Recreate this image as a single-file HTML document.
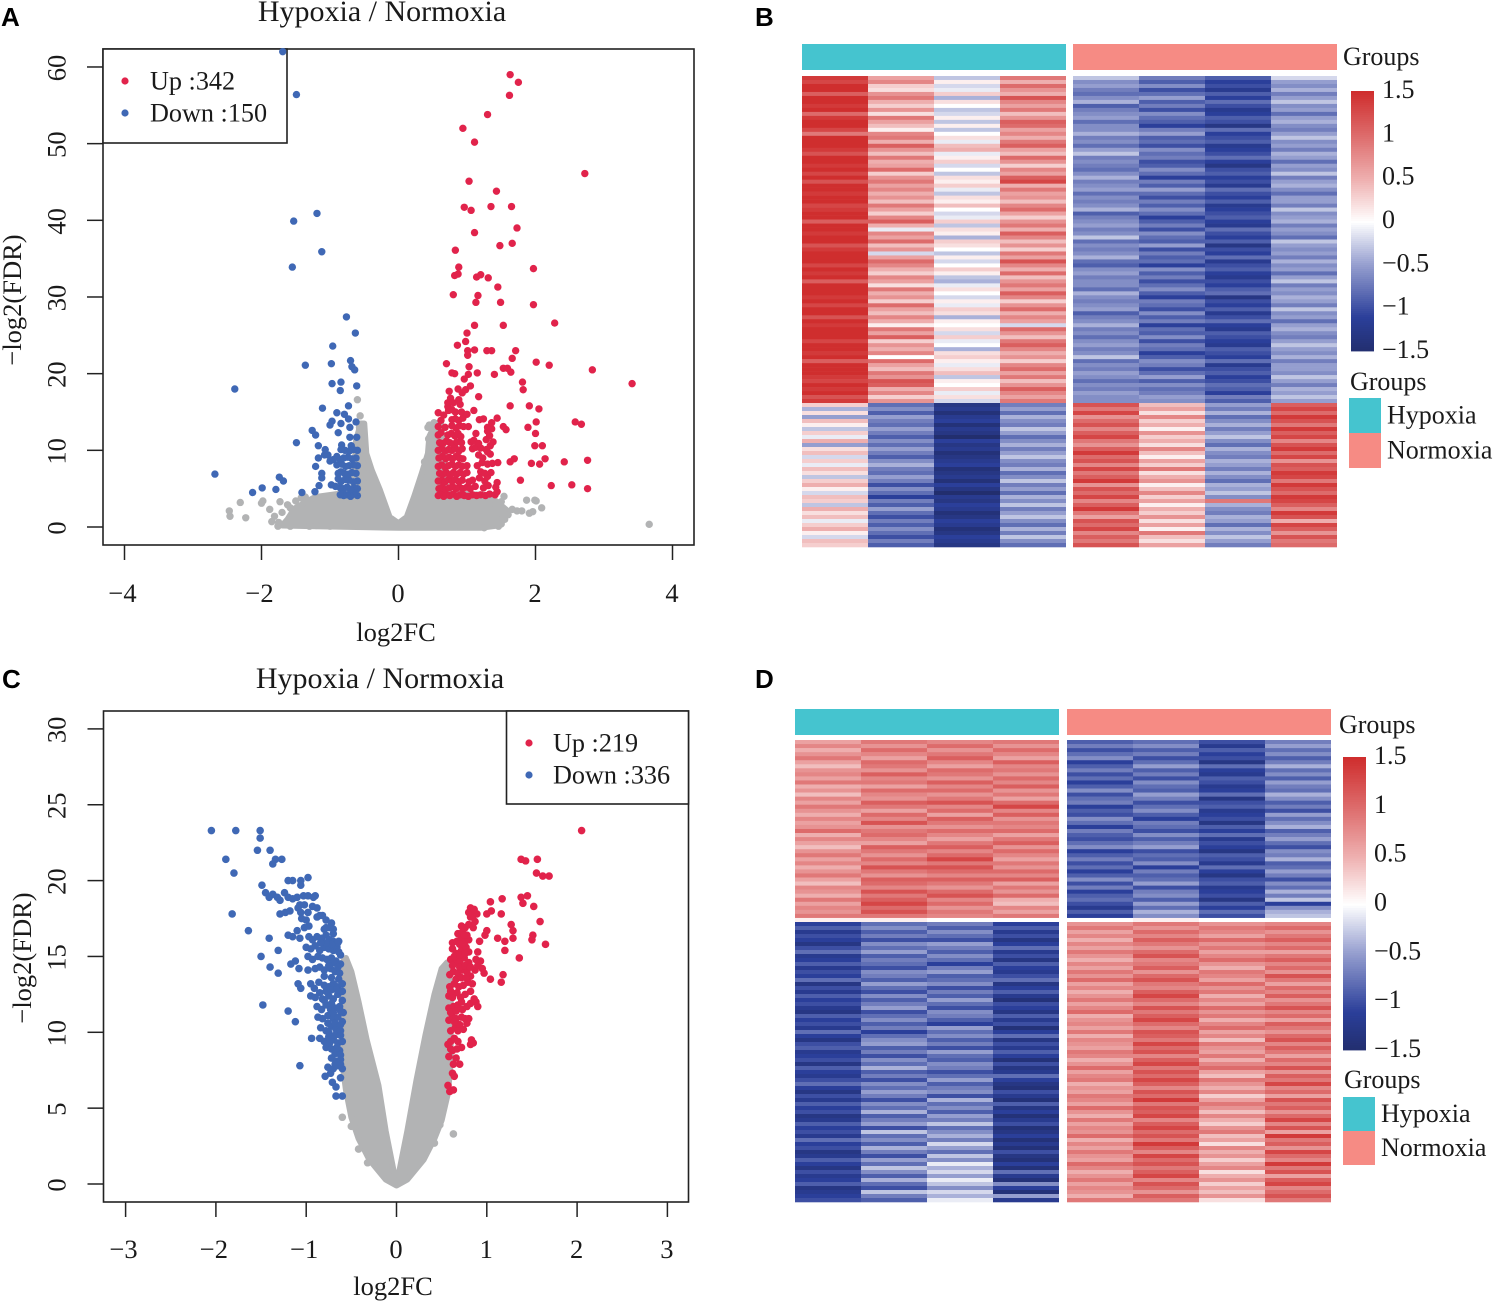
<!DOCTYPE html>
<html lang="en">
<head>
<meta charset="utf-8">
<title>Hypoxia / Normoxia volcano plots and heatmaps</title>
<style>
html,body{margin:0;padding:0;background:#fff}
svg{display:block}
text{font-family:"Liberation Serif",serif;fill:#1a1a1a}
.letter{font-family:"Liberation Sans",sans-serif;font-weight:bold;font-size:26px;fill:#000}
.lab{font-size:26.5px}
.title{font-size:30px}
</style>
</head>
<body>
<svg id="figure" width="1495" height="1301" viewBox="0 0 1495 1301" xmlns="http://www.w3.org/2000/svg">
  <rect width="1495" height="1301" fill="#fff"/>
  <text class="letter" x="1" y="26">A</text>
  <text class="letter" x="755" y="26">B</text>
  <text class="letter" x="2" y="688">C</text>
  <text class="letter" x="755" y="688">D</text>
  <text class="title" x="382" y="21" text-anchor="middle">Hypoxia / Normoxia</text>
  <text class="title" x="380" y="688" text-anchor="middle">Hypoxia / Normoxia</text>
  <text class="lab" x="396" y="641" text-anchor="middle">log2FC</text>
  <text class="lab" x="393" y="1295" text-anchor="middle">log2FC</text>
  <text class="lab" transform="translate(21,300) rotate(-90)" text-anchor="middle">−log2(FDR)</text>
  <text class="lab" transform="translate(31,958) rotate(-90)" text-anchor="middle">−log2(FDR)</text>
  <g id="volcanoA"></g>
  <g id="volcanoC"></g>
  <g id="heatB"></g>
  <g id="heatD"></g>
</svg>
<script>
/* ---------- volcano A (flat lists: log2FC, -log2FDR, log2FC, -log2FDR ...) ---------- */
const aXTicks = [-4,-2,0,2,4];
const aYTicks = [0,10,20,30,40,50,60];
const aGreyOutlineX = [-1.7,-1.62,-1.52,-1.38,-1.22,-0.89,-0.66,-0.62,-0.55,-0.5,-0.47,-0.39,-0.27,-0.13,0,0.12,0.23,0.34,0.43,0.45,0.54,0.62,0.7,1.24,1.42,1.58,1.45,1.2,0,-1.2];
const aGreyOutlineY = [0.2,1,2.4,3.1,3.9,4.3,4.8,11.3,13.5,13.5,9.6,7.4,4.8,1.3,0.5,1.3,4,7,9.6,11.8,13.5,13.7,4.4,4.2,3.4,2.2,0.2,-0.1,-0.1,0.1];
const aGreyPoints = [3.66,0.35,1.87,3.5,1.99,3.5,2.01,3.4,2.09,2.5,1.96,2,1.91,1.8,1.73,2.1,1.66,2.3,1.8,2.1,1.54,4,1.55,1,1.46,0.1,1.5,0.4,1.6,1.6,1.42,2.9,1.5,3.3,-2.31,3.2,-2.47,2.1,-2.46,1.4,-2.23,1.2,-1.98,3.4,-2,3.1,-1.88,2.3,-1.73,3.3,-1.81,1.4,-1.85,0.7,-1.76,0.1,-1.62,0.8,-1.58,2.5,-1.5,3.4,-1.42,3.8,-1.36,3.9,-1.7,1.9,-1.62,2.9,-1.75,0.6,-1.58,0.1,-1.3,0.1,-0.6,16.6,-0.56,14.5,-0.57,13,-0.54,11.6,-0.57,11,-0.52,10,-0.44,7.8,-0.42,6.3,0.45,13.3,0.43,13,0.52,13.6,0.44,11.5,0.46,11,0.38,8.5,-1.2,0.2,-1,0.1,0.9,0.1,1.25,-0.1];
const aUpPoints = [1.63,59,1.75,58,1.62,56.3,1.3,53.8,0.94,52,1.11,50.2,2.72,46.1,1.03,45.1,1.43,43.8,0.96,41.7,1.06,41.3,1.35,41.8,1.65,41.8,1.73,39,1.11,38.4,1.48,36.7,1.66,37,0.83,36.1,0.88,33.9,1.97,33.7,0.82,32.8,0.87,33,1.14,32.6,1.2,32.9,1.31,32.5,1.45,31.3,0.8,30.3,1.16,30.2,1.13,29.3,1.49,29.3,1.97,29,1.11,26.3,1.53,26.3,2.28,26.6,1,25.3,0.98,24.2,0.86,23.7,1.01,23,1.11,23.1,1.29,23,1.36,23,1.71,23,1.01,22.4,1.66,22,0.7,21.3,1.03,20.9,2.01,21.5,2.2,21.1,2.83,20.5,0.78,20.1,0.82,20,1.02,19.9,1.15,20.1,1.4,19.9,1.53,20.7,1.59,20.7,1.64,20.2,0.96,19.3,1.81,18.9,3.41,18.7,0.87,18,0.98,17.9,1.05,18.4,0.93,17.5,1.82,17.9,0.74,17.7,1.17,17,0.76,16.8,0.72,16.2,0.9,16,1.63,15.8,1.91,15.8,2.05,15.4,1.1,15.2,2.58,13.7,2.67,13.4,2.01,13.7,1.89,13,2,12.2,1.99,10.6,2.1,10.6,2.14,8.9,1.94,8.3,2.06,8.2,2.42,8.5,2.76,8.7,1.63,8.5,1.69,8.9,1.78,6.1,2.23,5.4,2.53,5.5,2.76,5,1.44,14.2,1.53,13.1,1.57,12.7,
0.58,4.1,0.62,4.3,0.66,4,0.7,4.2,0.75,4.1,0.8,4.3,0.85,4,0.9,4.2,0.96,4.1,1.02,4,1.08,4.2,1.14,4.1,1.2,4.2,1.27,4.1,1.33,4.3,1.41,4.2,1.44,4.6,
0.59,5,0.64,5.2,0.69,4.9,0.74,5.1,0.79,5.3,0.84,5,0.89,5.2,0.94,5,1,5.2,1.05,5,1.12,5.3,1.24,5.1,1.31,5.4,1.42,5.2,
0.58,6,0.63,6.1,0.68,5.9,0.73,6.2,0.78,6,0.83,6.2,0.88,5.9,0.93,6.1,1.03,5.9,1.08,6.1,1.18,6.4,1.26,6,1.3,6.6,1.44,5.8,
0.6,7,0.65,6.9,0.7,7.1,0.75,6.8,0.8,7.1,0.85,6.9,0.9,7.1,0.95,6.9,1,7.1,1.2,7.2,1.26,7,1.35,7.1,
0.58,7.9,0.63,8.1,0.68,7.8,0.73,8,0.78,8.2,0.83,7.9,0.88,8.1,0.93,7.9,1,8,1.15,8,1.22,8.4,1.3,8.2,1.37,8.3,1.45,8.4,
0.59,9,0.64,9.2,0.69,8.9,0.74,9.1,0.79,8.9,0.84,9.2,0.89,9,0.94,8.9,1.17,9.4,1.23,9,1.34,9.5,
0.58,10,0.63,10.2,0.68,9.9,0.73,10.1,0.78,10,0.83,10.3,0.88,9.9,0.93,10.2,1.08,10.2,1.13,10.4,1.2,10.3,1.28,10.1,1.34,10.6,1.3,9.8,
0.6,11,0.65,10.9,0.7,11.2,0.75,11,0.8,10.8,0.85,11.1,0.92,11,1.06,11.1,1.1,11.3,1.17,10.9,1.28,11.4,1.38,11.1,1.33,11.9,
0.58,12,0.62,12.3,0.72,12,0.77,12.2,0.82,11.9,0.87,12.2,0.91,11.8,1.13,12.2,1.3,12.5,1.36,12.8,
0.58,13.1,0.68,13,0.78,13.2,0.84,12.9,0.89,13.2,0.95,13.1,1.02,13.1,1.3,13,1.36,13.6,
0.62,13.9,0.78,14,0.83,14.1,0.88,13.9,0.94,14.2,1.18,14,1.24,14.1,0.58,14.9,0.66,14.6,0.73,15.2,0.83,15,0.92,15,1,14.7,0.72,15.7,0.78,15.3,0.8,16.2,0.88,16.6];
const aDownPoints = [-1.69,62,-1.49,56.4,-1.19,40.9,-1.53,39.9,-1.12,35.9,-1.55,33.9,-0.76,27.4,-0.63,25.3,-0.96,23.6,-1.36,21.1,-0.98,21.3,-0.7,21.7,-0.68,20.9,-0.64,20.5,-0.97,18.7,-0.84,18.9,-0.85,17.8,-0.61,18.4,-2.39,18,-1.11,15.5,-0.73,15.8,-0.9,14.9,-0.79,14.7,-0.73,14.1,-0.97,13.8,-1,13.3,-0.84,13.5,-0.71,13,-0.62,13.7,-1.26,12.6,-1.21,12,-0.88,12.3,-0.71,11.7,-0.61,11.7,-1.49,11,-1.17,10.6,-0.83,10.7,-0.69,10.6,-2.68,6.9,-1.74,6.5,-1.68,6,-1.99,5.1,-2.13,4.5,-1.79,4.9,-1.41,4.5,-1.22,4.6,-1.16,5.4,-1.12,7,-1.12,6.4,-1.21,7.9,-1.17,9,-1.08,9.4,-1.03,9.4,-1.07,10.1,
-0.6,4.1,-0.65,4.3,-0.7,4,-0.75,4.2,-0.8,4.1,-0.85,4.2,-0.6,5,-0.65,5.1,-0.7,4.9,-0.75,5.2,-0.8,5,-0.85,5.1,-0.92,5.3,-0.98,5.5,-0.6,6,-0.66,5.9,-0.72,6.1,-0.78,6.2,-0.84,5.9,-0.88,6.3,-0.62,7,-0.68,7.1,-0.73,6.9,-0.79,7,-0.84,7.2,-0.88,7,-0.6,8,-0.66,8.1,-0.72,8,-0.77,7.9,-0.83,8.2,-0.9,8.1,-0.62,9,-0.68,8.9,-0.74,9.1,-0.8,9,-0.85,8.8,-0.9,9.2,-0.6,10,-0.66,10.1,-0.72,9.9,-0.78,10,-0.84,10.1,-0.95,8.8,-1,8.6];

/* ---------- volcano C ---------- */
const cXTicks = [-3,-2,-1,0,1,2,3];
const cYTicks = [0,5,10,15,20,25,30];
const cGreyOutlineX = [0,-0.12,-0.3,-0.42,-0.5,-0.56,-0.6,-0.6,-0.56,-0.5,-0.42,-0.33,-0.2,-0.12,-0.03,0,0.03,0.12,0.22,0.32,0.42,0.5,0.56,0.6,0.6,0.57,0.5,0.42,0.3,0.12];
const cGreyOutlineY = [-0.1,0.3,1.6,3,4.4,6.2,8,14.6,14.9,14,12,9.5,6.5,3.5,0.8,0.6,0.8,3.5,6.8,9.8,12.5,14.2,14.6,13,8,6,4.2,3,1.6,0.3];
const cGreyPoints = [-0.6,4.4,0.63,3.3,0.48,3.9,0.47,4.2,-0.42,2.3,-0.32,1.4,0.42,2.7,-0.5,3.8];
const cUpPoints = [2.05,23.3,1.38,21.4,1.43,21.3,1.56,21.4,1.55,20.5,1.62,20.3,1.69,20.3,1.38,18.9,1.45,19,1.4,18.5,1.52,18.3,1.17,18.8,1.04,18.6,1.05,18,1,17.8,1.16,17.8,1.59,17.3,1.27,17.1,1.29,16.7,1.51,16.4,1.5,16.1,1.65,15.8,1.29,16.2,1.12,16.2,1.2,16,1.2,15.4,1.36,14.9,1,16.7,0.98,16.4,0.92,16,1.04,13.5,1.18,13.8,1.16,13.3,
0.59,6.1,0.63,6.2,0.57,6.5,0.62,7.3,0.64,7.1,0.7,7.9,0.63,7.9,0.58,8.4,0.62,8.8,0.67,8.9,0.72,9,0.57,9.2,0.6,9.4,0.64,9.6,0.68,9.4,0.82,9.2,0.85,9.3,0.83,9.5,0.6,10.1,0.65,10.3,0.7,10.5,0.74,10.2,0.78,10.6,0.58,10.8,0.62,11,0.66,10.9,0.72,11,0.76,10.9,0.8,10.9,
0.58,11.6,0.63,11.7,0.68,11.8,0.73,11.5,0.78,11.7,0.82,11.9,0.88,12,0.9,11.7,0.58,12.4,0.62,12.3,0.67,12.6,0.71,12.3,0.76,12.5,0.82,12.7,0.86,12.2,0.59,13,0.64,13.2,0.69,13,0.74,13.1,0.79,13.3,0.84,13.2,0.59,13.8,0.63,14,0.68,13.9,0.73,14.1,0.78,14,0.82,13.7,0.87,14.1,0.9,14.4,0.95,14.2,0.97,13.9,0.93,14.7,0.6,14.8,0.65,14.6,0.7,14.7,0.75,14.9,0.8,14.6,0.88,14.8,0.9,15.3,0.62,15.5,0.66,15.2,0.72,15.4,0.77,15.6,0.8,15.3,0.62,15.9,0.67,16,0.72,16.2,0.76,16,0.8,16.1,0.68,16.5,0.73,16.6,0.78,16.4,0.72,17,0.76,16.9,0.8,17.1,0.85,16.9,0.82,17.6,0.85,17.7,0.87,17.3,0.8,17.9,0.84,18,0.89,17.8,0.82,18.2,0.86,18.1,
0.6,11.3,0.66,11.4,0.72,12,0.6,12.7,0.66,13.5,0.72,13.6,0.77,13.6,0.62,14.4,0.7,14.3,0.76,14.4,0.82,14.3,0.64,15,0.7,15.1,0.76,15.2,0.7,15.8,0.75,16.4,0.64,10.7,0.68,10.1,0.6,8.9,0.66,8.3];
const cDownPoints = [-2.05,23.3,-1.78,23.3,-1.51,23.3,-1.51,22.8,-1.54,22,-1.4,22,-1.89,21.4,-1.37,21.1,-1.34,21.4,-1.27,21.4,-1.8,20.5,-1.2,20,-1.15,20,-1.06,20,-1.06,19.7,-0.98,20.2,-1.49,19.7,-1.45,19.2,-1.41,18.9,-1.37,19.1,-1.32,18.9,-1.29,18.7,-1.24,19.2,-1.2,18.9,-1.15,18.8,-1.82,17.8,-1.64,16.7,-1.41,16.2,-1.31,15.4,-1.5,15,-1.4,14.3,-1.31,13.9,-1.48,11.8,-1.2,11.4,-1.12,10.7,-0.94,9.6,-1.07,7.8,-0.79,7.1,-0.71,6.7,-0.62,7,-0.67,6.4,-0.67,5.8,-0.6,5.8,
-1.1,18.9,-1.07,18.4,-1.03,19,-0.98,19,-0.92,18.9,-0.9,19,-1.09,18.2,-1.06,17.9,-1.02,18.4,-0.98,17.9,-0.93,18.3,-0.88,18.2,-0.85,17.7,-1.29,17.8,-1.23,17.9,-1.18,18,-1.05,17.5,-1,17.4,-0.97,17,-0.88,17.6,-0.82,17.7,-0.78,17.4,-0.72,17.2,-0.7,16.8,-0.74,16.9,-0.8,16.8,-1.1,16.7,-1.02,16.9,-1.2,16.4,-1.15,16.3,-1.07,16.2,-0.97,16.3,-0.93,16.1,-0.88,16.3,-0.83,16.2,-0.78,16.4,-0.74,16.1,-0.7,16,-0.64,16,
-1,15.6,-0.95,15.5,-0.9,15.7,-0.85,15.4,-0.8,15.6,-0.75,15.5,-0.7,15.4,-0.66,15.6,-0.62,15.1,-0.98,15,-0.93,14.8,-0.87,15,-0.82,14.9,-0.77,14.8,-0.72,14.9,-0.67,14.7,-0.62,14.5,-1.17,14.5,-1.12,14.7,-1.08,14.2,-0.98,14.1,-0.9,14.2,-0.85,14.3,-0.8,14.1,-0.73,14.2,-0.68,14,-0.63,13.9,
-1.09,13.2,-1.06,12.9,-0.95,13.2,-0.91,12.9,-0.86,13.3,-0.8,13.1,-0.75,13,-0.7,13.2,-0.65,13,-0.6,13.2,-0.95,12.4,-0.9,12.3,-0.85,12.6,-0.82,12.2,-0.75,12.4,-0.7,12.2,-0.65,12.5,-0.6,12.1,
-0.88,11.7,-0.83,11.5,-0.78,11.8,-0.73,11.5,-0.68,11.6,-0.63,11.7,-0.59,11.3,-0.87,11,-0.82,10.9,-0.76,11.1,-0.7,10.9,-0.65,11,-0.6,10.7,-0.84,10.3,-0.78,10.1,-0.72,10.4,-0.67,10.2,-0.62,10.1,-0.85,9.6,-0.8,9.4,-0.75,9.7,-0.7,9.5,-0.65,9.3,-0.6,9.4,-0.78,9,-0.72,8.9,-0.68,8.6,-0.63,8.8,-0.72,8.3,-0.67,8.1,-0.62,8.2,-0.76,7.7,-0.7,7.6,-0.65,7.8,-0.6,7.6,-0.73,7.3,
-0.78,16.9,-0.7,16.5,-0.65,15.9,-0.72,15.8,-0.78,15.9,-0.84,15.9,-0.64,15.3,-0.7,14.6,-0.75,14.4,-0.65,14.3,-0.8,13.7,-0.72,13.6,-0.64,13.5,-0.78,12.7,-0.72,12.8,-0.66,12.8,-0.6,12.7,-0.8,12.1,-0.72,11.9,-0.62,11.4,-0.7,11.3,-0.76,10.6,-0.68,10.6,-0.62,10.5,-0.75,10,-0.68,9.8,-0.62,9.8,-0.74,9.3,-0.66,9,-0.62,8.5,-0.68,7.9,-0.62,7.9];

/* ---------- shared heatmap scale ---------- */
const scaleValues = [-1.5,-1.1,-0.5,0,0.5,1,1.5];
const scaleColors = ['#222e6e','#2b3f9a','#959ecf','#ffffff','#eeaeae','#dd6b6b','#cf2e2e'];
const scaleTicks = [1.5,1,0.5,0,-0.5,-1,-1.5];

/* ---------- heatmap B: z-scores x10, one array per sample, per row block ---------- */
const bTopH1 = [14,13,15,15,11,15,15,14,15,10,14,15,15,13,9,15,15,15,14,12,15,15,14,15,13,15,12,15,15,14,15,15,13,14,15,15,11,15,15,14,15,15,12,14,15,15,15,13,15,14,15,11,15,15,15,14,15,13,15,15,12,15,14,15,15,15,13,15,15,14,15,11,15,15,15,14,13,15,14,15,12,14];
const bTopH2 = [6,8,3,2,7,9,5,3,7,2,9,6,4,1,8,9,5,11,7,4,9,5,6,10,3,7,9,6,8,5,7,4,9,6,3,8,11,5,-1,8,6,10,4,7,-2,6,10,8,5,3,8,6,2,9,5,7,3,10,6,4,8,5,1,9,6,11,3,7,5,8,0,10,6,4,9,7,12,11,5,8,3,7];
const bTopH3 = [-3,1,-2,-1,3,-4,2,0,-3,-2,1,-3,1,-3,0,2,-1,4,5,-1,1,3,-2,0,-3,2,1,3,-1,-3,2,1,4,0,-2,-1,3,-3,2,1,-4,3,2,0,-3,1,-2,0,3,1,-3,-4,-1,2,0,-2,1,-1,3,2,-4,1,0,2,-2,3,-1,0,-4,2,3,1,-1,2,4,-3,1,0,3,-1,2,-2];
const bTopH4 = [9,5,10,7,5,12,8,6,9,4,7,11,10,6,8,5,9,11,6,4,10,7,3,8,6,11,13,5,9,6,7,4,8,10,6,3,7,9,5,11,8,4,7,3,9,6,12,8,5,10,4,7,9,6,11,8,3,7,10,5,8,6,-2,10,7,4,9,11,8,5,7,3,8,10,6,9,4,7,11,8,6,9];
const bTopH5 = [-3,-6,-5,-7,-8,-6,-4,-9,-7,-6,-5,-8,-6,-6,-4,-7,-6,-8,-5,-3,-7,-6,-7,-8,-6,-4,-7,-6,-5,-8,-6,-7,-6,-4,-9,-7,-6,-5,-7,-6,-3,-8,-6,-7,-6,-4,-8,-9,-6,-5,-7,-6,-6,-8,-4,-6,-7,-6,-5,-9,-7,-6,-4,-7,-6,-8,-6,-5,-7,-6,-3,-8,-6,-7,-5,-6,-8,-6,-7,-5,-6,-6];
const bTopH6 = [-7,-9,-6,-10,-8,-5,-9,-7,-10,-6,-8,-9,-11,-7,-5,-9,-8,-10,-6,-8,-7,-10,-9,-6,-8,-11,-7,-9,-5,-8,-10,-7,-9,-6,-8,-11,-9,-7,-10,-6,-8,-9,-5,-10,-7,-9,-8,-11,-6,-9,-7,-10,-8,-6,-9,-11,-7,-8,-10,-6,-9,-7,-11,-8,-9,-6,-10,-7,-8,-11,-9,-6,-7,-10,-8,-5,-9,-6,-8,-7,-5,-6];
const bTopH7 = [-9,-11,-10,-12,-9,-11,-8,-10,-12,-11,-9,-10,-13,-8,-11,-10,-9,-12,-11,-10,-8,-11,-13,-10,-9,-11,-10,-12,-8,-10,-11,-9,-12,-11,-10,-9,-11,-12,-8,-10,-11,-9,-13,-10,-11,-8,-12,-10,-9,-11,-12,-10,-11,-9,-8,-13,-10,-11,-9,-12,-10,-8,-11,-12,-9,-10,-11,-12,-9,-10,-11,-8,-12,-10,-9,-11,-10,-8,-9,-11,-7,-9];
const bTopH8 = [-2,-5,-6,-4,-7,-5,-3,-6,-5,-8,-5,-4,-6,-7,-5,-3,-6,-5,-7,-4,-5,-8,-5,-6,-3,-7,-5,-4,-6,-8,-5,-5,-7,-3,-6,-5,-4,-7,-5,-6,-8,-3,-5,-6,-5,-7,-4,-6,-5,-8,-5,-3,-7,-5,-6,-4,-5,-7,-3,-6,-5,-8,-5,-4,-6,-7,-5,-3,-5,-6,-4,-7,-5,-5,-6,-3,-5,-7,-4,-5,-3,-5];
const bBotH1 = [3,-4,2,-5,4,1,-3,3,-1,5,-5,2,4,-2,3,-1,4,2,-3,3,5,1,-2,4,3,-3,5,2,4,-1,3,5,1,-2,4,3];
const bBotH2 = [-8,-6,-9,-5,-7,-8,-5,-7,-9,-6,-8,-5,-7,-9,-6,-4,-7,-8,-5,-7,-10,-6,-8,-11,-7,-9,-5,-8,-10,-7,-9,-6,-8,-10,-7,-9];
const bBotH3 = [-13,-12,-14,-12,-11,-14,-12,-13,-15,-11,-13,-12,-14,-13,-12,-11,-14,-13,-12,-14,-11,-13,-15,-12,-13,-11,-12,-14,-13,-11,-12,-14,-13,-11,-12,-13];
const bBotH4 = [-7,-5,-8,-4,-6,-7,-3,-5,-8,-6,-4,-7,-5,-3,-6,-7,-4,-8,-6,-3,-7,-5,-8,-4,-6,-3,-7,-5,-3,-6,-8,-4,-7,-3,-6,-8];
const bBotH5 = [12,9,13,7,10,12,8,11,13,9,7,11,14,10,12,8,13,9,11,14,7,12,10,13,8,11,14,9,6,12,10,13,8,11,9,12];
const bBotH6 = [4,6,2,8,3,5,1,7,3,5,2,8,4,1,6,3,9,2,5,7,1,4,8,3,6,1,5,3,7,2,6,1,9,4,2,6];
const bBotH7 = [-5,-7,-4,-8,-6,-4,-7,-5,-3,-6,-8,-4,-6,-7,-4,-5,-7,-4,-6,-8,-4,-5,-3,-6,9,-4,-6,-7,-4,-5,-8,-4,-6,-3,-5,-7];
const bBotH8 = [11,13,10,14,12,9,14,11,13,8,12,14,10,13,7,12,11,14,13,9,14,12,10,14,13,11,8,14,12,5,13,11,7,12,9,10];

/* ---------- heatmap D ---------- */
const dTopH1 = [6,8,5,7,9,6,4,7,8,6,9,5,7,4,8,6,9,7,5,8,6,7,10,5,8,6,4,7,9,6,8,5,7,9,6,4,8,7,5,9,6,8,7,9,1];
const dTopH2 = [9,7,10,8,6,10,9,7,11,8,9,6,10,8,7,11,9,6,10,8,12,7,9,10,8,6,11,9,7,10,8,12,9,7,11,10,8,12,9,11,13,10,12,9,1];
const dTopH3 = [8,10,7,9,11,8,6,10,9,7,11,8,10,7,9,12,8,10,6,11,9,7,10,8,6,9,11,8,10,13,9,12,10,8,11,9,7,10,12,8,10,7,9,8,0];
const dTopH4 = [9,7,10,8,6,11,8,9,7,10,8,11,7,9,6,10,13,8,11,7,9,8,10,6,9,11,7,10,8,6,9,7,10,8,11,6,9,7,10,5,4,8,6,9,0];
const dTopH5 = [-9,-7,-10,-8,-6,-11,-9,-7,-10,-8,-11,-9,-6,-10,-8,-7,-11,-9,-10,-6,-8,-11,-7,-9,-10,-8,-6,-11,-9,-7,-10,-8,-11,-9,-6,-10,-7,-11,-9,-8,-10,-12,-9,-11,0];
const dTopH6 = [-8,-6,-9,-7,-10,-8,-5,-9,-7,-10,-6,-8,-9,-5,-7,-10,-8,-6,-9,-11,-7,-8,-10,-6,-9,-7,-5,-10,-8,-9,-6,-11,-7,-9,-8,-5,-10,-7,-6,-9,-5,-8,-4,-6,1];
const dTopH7 = [-10,-12,-9,-11,-10,-13,-8,-11,-12,-9,-10,-12,-11,-8,-13,-10,-9,-12,-11,-10,-13,-9,-11,-8,-12,-10,-11,-13,-9,-10,-12,-8,-11,-13,-10,-9,-12,-11,-10,-13,-9,-11,-8,-10,0];
const dTopH8 = [-7,-5,-8,-6,-9,-7,-4,-8,-6,-9,-5,-7,-8,-4,-6,-9,-7,-10,-5,-8,-6,-4,-9,-7,-5,-8,-10,-6,-7,-4,-9,-8,-5,-7,-10,-6,-8,-4,-7,-3,-11,-6,-4,-3,0];
const dBotH1 = [-11,-9,-12,-10,-11,-13,-10,-8,-12,-11,-9,-12,-10,-11,-8,-13,-10,-12,-9,-11,-10,-12,-13,-9,-11,-10,-12,-8,-11,-13,-10,-9,-12,-11,-10,-13,-9,-11,-12,-10,-8,-11,-13,-10,-12,-9,-11,-10,-13,-12,-9,-11,-10,-12,-8,-11,-10,-13,-12,-9,-11,-13,-10,-12,-11,-9,-13,-12,-11,-10];
const dBotH2 = [-8,-6,-9,-7,-10,-6,-8,-5,-9,-7,-8,-10,-6,-7,-9,-5,-8,-10,-6,-9,-7,-5,-10,-8,-6,-9,-7,-11,-8,-6,-5,-9,-7,-10,-6,-8,-4,-9,-7,-10,-6,-8,-5,-7,-10,-6,-8,-4,-9,-7,-5,-10,-3,-8,-6,-9,-4,-7,-10,-5,-8,-3,-6,-9,-4,-8,-10,-3,-7,-9];
const dBotH3 = [-7,-9,-6,-8,-10,-5,-7,-9,-6,-8,-11,-7,-5,-9,-8,-6,-10,-7,-9,-5,-8,-10,-6,-7,-9,-11,-5,-8,-6,-9,-7,-10,-5,-8,-9,-6,-7,-10,-8,-5,-9,-7,-6,-10,-4,-8,-6,-9,-5,-7,-3,-8,-6,-4,-7,-2,-5,-8,-3,-6,-1,-4,-2,-5,-1,-3,-6,-2,-4,-1];
const dBotH4 = [-11,-9,-12,-10,-13,-11,-8,-12,-10,-13,-9,-11,-12,-10,-8,-13,-11,-9,-12,-14,-10,-11,-13,-9,-12,-10,-14,-11,-8,-13,-10,-12,-9,-11,-14,-10,-13,-12,-8,-11,-13,-14,-10,-12,-14,-9,-13,-11,-14,-12,-10,-14,-13,-11,-14,-12,-14,-10,-13,-14,-11,-14,-8,-12,-14,-6,-11,-14,-5,-12];
const dBotH5 = [7,9,6,8,5,8,6,9,7,5,8,6,9,7,10,6,8,5,7,9,6,8,10,5,7,8,6,9,5,8,7,6,9,8,5,7,10,6,8,9,5,7,6,9,8,6,10,7,5,9,6,8,7,10,5,8,6,9,7,6,10,8,5,7,9,6,8,7,5,9];
const dBotH6 = [9,7,10,8,11,9,7,10,12,8,9,11,7,10,12,9,8,11,13,10,8,12,9,11,13,10,8,12,11,9,13,10,12,8,11,13,9,12,10,13,11,8,12,10,14,9,12,11,13,8,11,13,10,12,9,14,11,8,13,10,12,9,11,13,8,12,10,7,11,9];
const dBotH7 = [7,9,8,6,10,7,9,6,8,10,7,5,9,8,6,10,7,9,5,8,6,10,7,9,5,8,10,6,8,4,9,7,6,9,5,8,10,6,4,9,7,5,8,3,6,9,7,4,8,5,3,7,9,4,6,2,8,5,7,3,6,8,2,5,7,3,6,4,7,2];
const dBotH8 = [8,10,7,9,11,8,10,6,9,11,8,10,7,12,9,6,10,8,11,7,9,12,8,10,6,11,9,7,10,12,8,11,9,6,10,8,12,7,11,9,13,8,10,6,12,9,11,7,10,13,8,12,6,14,9,11,7,13,10,8,14,9,12,6,11,13,8,10,12,9];

const NS = 'http://www.w3.org/2000/svg';

function make(tag, parent, attrs) {
  const el = document.createElementNS(NS, tag);
  for (const k in attrs) el.setAttribute(k, attrs[k]);
  parent.appendChild(el);
  return el;
}

function drawPoints(parent, list, sx, sy, r, fill, name) {
  for (let i = 0; i + 1 < list.length; i += 2) {
    const dot = make('circle', parent, {cx: sx(list[i]), cy: sy(list[i + 1]), r: r, fill: fill});
    
    
  }
}

function drawText(parent, x, y, str, size, anchor, name, rotate) {
  const t = make('text', parent, {x: x, y: y, 'font-size': size, 'text-anchor': anchor});
  if (rotate) t.setAttribute('transform', 'rotate(-90 ' + x + ' ' + y + ')');
  t.textContent = str;
  
  
  return t;
}

function fmt(v) { return v < 0 ? '\u2212' + Math.abs(v) : String(v); }

function drawVolcano(root, o) {
  const sx = v => o.x0 + o.xUnit * v;
  const sy = v => o.y0 - o.yUnit * v;
  const outline = o.greyX.map((v, i) => sx(v) + ',' + sy(o.greyY[i])).join(' ');
  const mass = make('polygon', root, {points: outline, fill: '#b2b3b4', stroke: '#b2b3b4', 'stroke-width': 6, 'stroke-linejoin': 'round'});
  
  
  drawPoints(root, o.grey, sx, sy, o.r, '#b2b3b4', 'unchanged-gene-point');
  drawPoints(root, o.up, sx, sy, o.r, '#e1234b', 'up-gene-point');
  drawPoints(root, o.down, sx, sy, o.r, '#3f68b5', 'down-gene-point');

  const box = make('rect', root, {x: o.box[0], y: o.box[1], width: o.box[2] - o.box[0], height: o.box[3] - o.box[1], fill: 'none', stroke: '#222', 'stroke-width': 1.6});
  
  

  o.xTicks.forEach(v => {
    const tick = make('line', root, {x1: sx(v), x2: sx(v), y1: o.box[3], y2: o.box[3] + 15, stroke: '#222', 'stroke-width': 1.5});
    
    
    drawText(root, sx(v) + (v < 0 ? -2 : -0.5), o.xLabelY, fmt(v), 26.5, 'middle', 'x-tick-label');
  });
  o.yTicks.forEach(v => {
    const tick = make('line', root, {x1: o.box[0] - 16, x2: o.box[0], y1: sy(v), y2: sy(v), stroke: '#222', 'stroke-width': 1.5});
    
    
    drawText(root, 65.5, sy(v) + 1, fmt(v), 26.5, 'middle', 'y-tick-label', true);
  });

  const lg = o.legend;
  const lbox = make('rect', root, {x: lg.x, y: lg.y, width: lg.w, height: lg.h, fill: '#fff', stroke: '#222', 'stroke-width': 1.6});
  
  
  if (o.overLegend) {
    drawPoints(root, o.overLegend, sx, sy, o.r, '#3f68b5', 'down-gene-point');
  }
  const d1 = make('circle', root, {cx: lg.dotX, cy: lg.y1, r: 3.6, fill: '#e1234b'});
  
  
  const d2 = make('circle', root, {cx: lg.dotX, cy: lg.y2, r: 3.6, fill: '#3f68b5'});
  
  
  drawText(root, lg.textX, lg.y1 + 8.5, lg.upText, 26.2, 'start', 'legend-up-label');
  drawText(root, lg.textX, lg.y2 + 8.5, lg.downText, 26.2, 'start', 'legend-down-label');
}

function zColor(z) {
  const v = Math.max(-1.5, Math.min(1.5, z));
  let i = 0;
  while (i < scaleValues.length - 2 && v > scaleValues[i + 1]) i++;
  const t = (v - scaleValues[i]) / (scaleValues[i + 1] - scaleValues[i]);
  const a = scaleColors[i], b = scaleColors[i + 1];
  const ch = (c, p) => parseInt(c.substr(p, 2), 16);
  const mix = p => Math.round(ch(a, p) + (ch(b, p) - ch(a, p)) * t);
  return 'rgb(' + mix(1) + ',' + mix(3) + ',' + mix(5) + ')';
}

function drawColumn(root, values, x, w, yTop, yBot) {
  const h = (yBot - yTop) / values.length;
  values.forEach((v, i) => {
    const cell = make('rect', root, {x: x, y: yTop + i * h, width: w, height: h + 0.3, fill: zColor(v / 10)});
    
    
  });
}

function drawHeatmap(root, o) {
  const bar1 = make('rect', root, {x: o.x1, y: o.annTop, width: o.colW * 4, height: o.annH, fill: '#45c4cf'});
  
  
  const bar2 = make('rect', root, {x: o.x2, y: o.annTop, width: o.colW * 4, height: o.annH, fill: '#f68b84'});
  
  
  o.top.forEach((col, i) => {
    const x = (i < 4 ? o.x1 + i * o.colW : o.x2 + (i - 4) * o.colW);
    drawColumn(root, col, x, o.colW, o.y0, o.y1);
    drawColumn(root, o.bottom[i], x, o.colW, o.y1, o.y2);
  });

  drawText(root, o.groupsX, o.groupsY, 'Groups', 26, 'start', 'annotation-groups-label');
  const steps = 130;
  const cb = o.cb;
  const sy = v => cb.top + (1.5 - v) / 3 * (cb.bot - cb.top);
  for (let i = 0; i < steps; i++) {
    const v = 1.5 - 3 * i / steps;
    const seg = make('rect', root, {x: cb.x, y: sy(v), width: cb.w, height: (cb.bot - cb.top) / steps + 0.4, fill: zColor(v)});
    
    
  }
  scaleTicks.forEach(v => {
    drawText(root, cb.labelX, sy(v) + 7, fmt(v), 26, 'start', 'colorbar-tick-label');
  });
  drawText(root, o.leg.x + 1, o.leg.titleY, 'Groups', 26, 'start', 'group-legend-title');
  const s1 = make('rect', root, {x: o.leg.x, y: o.leg.y, width: 32, height: o.leg.h, fill: '#45c4cf'});
  
  
  const s2 = make('rect', root, {x: o.leg.x, y: o.leg.y + o.leg.h, width: 32, height: o.leg.h, fill: '#f68b84'});
  
  
  drawText(root, o.leg.x + 38, o.leg.y + o.leg.h / 2 + 8, 'Hypoxia', 26, 'start', 'hypoxia-legend-label');
  drawText(root, o.leg.x + 38, o.leg.y + o.leg.h * 1.5 + 8, 'Normoxia', 26, 'start', 'normoxia-legend-label');
}

drawVolcano(document.getElementById('volcanoA'), {
  x0: 398.5, xUnit: 68.5, y0: 527, yUnit: 7.667, r: 3.7,
  greyX: aGreyOutlineX, greyY: aGreyOutlineY, grey: aGreyPoints,
  up: aUpPoints, down: aDownPoints, overLegend: aDownPoints.slice(0, 2),
  box: [103, 49, 694, 545], xTicks: aXTicks, yTicks: aYTicks, xLabelY: 602,
  legend: {x: 103, y: 49, w: 184, h: 94, dotX: 125, y1: 81, y2: 113, textX: 150, upText: 'Up :342', downText: 'Down :150'}
});
drawVolcano(document.getElementById('volcanoC'), {
  x0: 396.5, xUnit: 90.3, y0: 1184, yUnit: 15.17, r: 3.8,
  greyX: cGreyOutlineX, greyY: cGreyOutlineY, grey: cGreyPoints,
  up: cUpPoints, down: cDownPoints,
  box: [103.5, 711, 688.5, 1202], xTicks: cXTicks, yTicks: cYTicks, xLabelY: 1258,
  legend: {x: 506.5, y: 711, w: 182, h: 93, dotX: 529, y1: 743, y2: 775, textX: 553, upText: 'Up :219', downText: 'Down :336'}
});
drawHeatmap(document.getElementById('heatB'), {
  x1: 802, x2: 1073, colW: 66, annTop: 44, annH: 26, y0: 76, y1: 403, y2: 547,
  top: [bTopH1, bTopH2, bTopH3, bTopH4, bTopH5, bTopH6, bTopH7, bTopH8],
  bottom: [bBotH1, bBotH2, bBotH3, bBotH4, bBotH5, bBotH6, bBotH7, bBotH8],
  groupsX: 1343, groupsY: 65,
  cb: {x: 1351, w: 23, top: 91, bot: 351, labelX: 1382},
  leg: {x: 1349, y: 398, h: 35, titleY: 390}
});
drawHeatmap(document.getElementById('heatD'), {
  x1: 795, x2: 1067, colW: 66, annTop: 709, annH: 26, y0: 740, y1: 922, y2: 1202,
  top: [dTopH1, dTopH2, dTopH3, dTopH4, dTopH5, dTopH6, dTopH7, dTopH8],
  bottom: [dBotH1, dBotH2, dBotH3, dBotH4, dBotH5, dBotH6, dBotH7, dBotH8],
  groupsX: 1339, groupsY: 733,
  cb: {x: 1343, w: 23, top: 757, bot: 1050, labelX: 1374},
  leg: {x: 1343, y: 1097, h: 34, titleY: 1088}
});
</script>
</body>
</html>
